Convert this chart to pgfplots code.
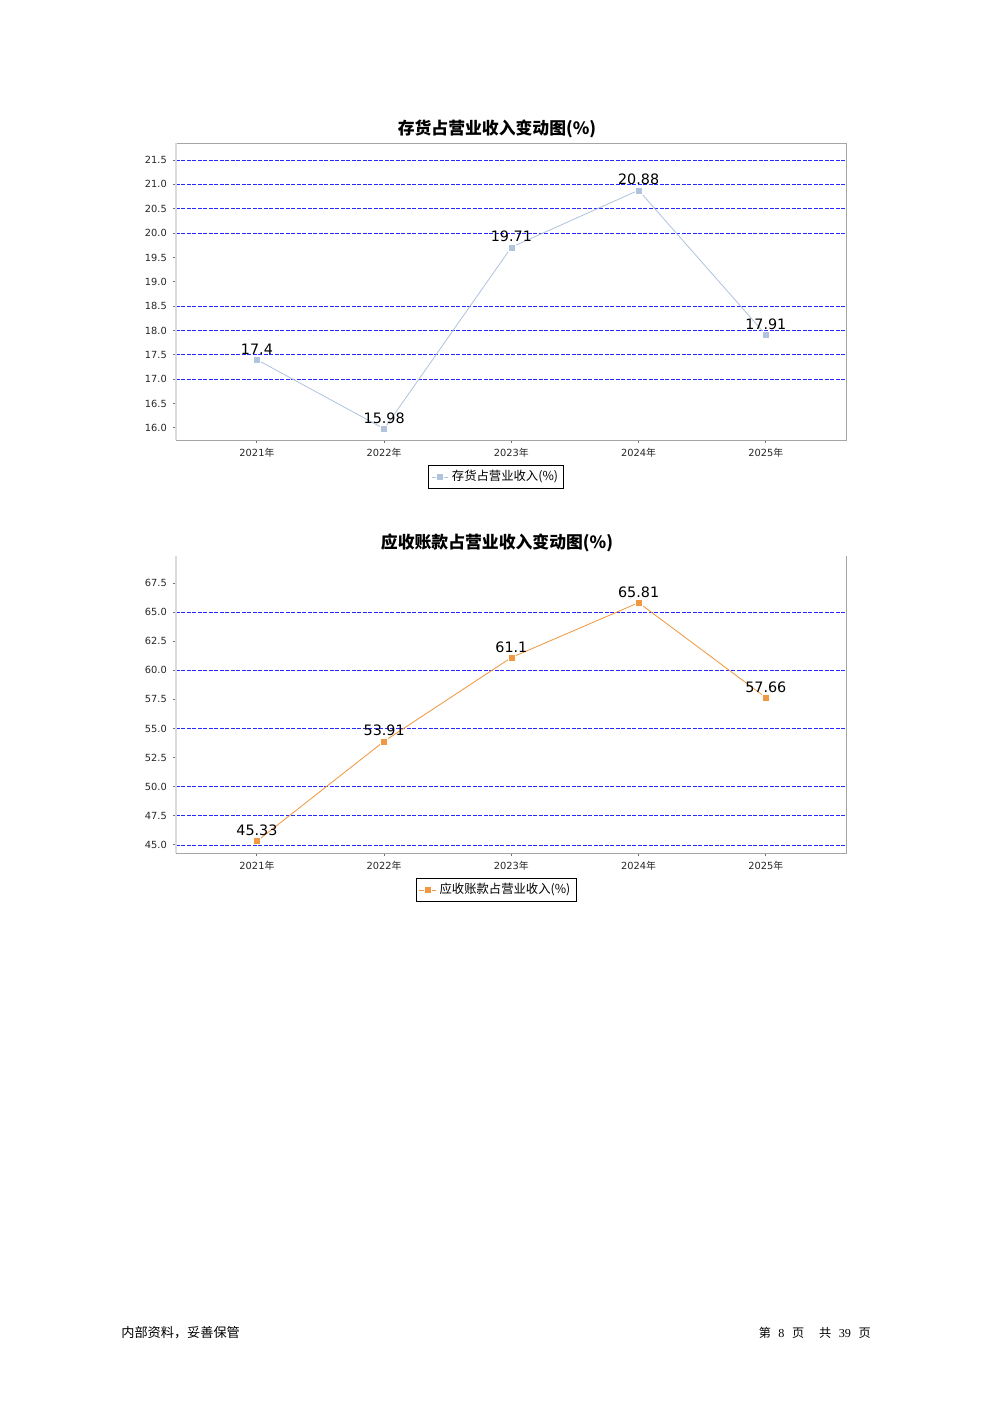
\documentclass[border=0pt]{standalone}
\usepackage{pgfplots}
\pgfplotsset{compat=1.18}
\usepackage{fontspec}
\setmainfont{DejaVu Sans}
\newfontfamily\cjk{Noto Sans CJK SC}
\newfontfamily\sernum{Liberation Serif}
\definecolor{cA}{RGB}{176,196,222}
\definecolor{cB}{RGB}{240,152,66}
\definecolor{axgray}{RGB}{165,165,165}
\definecolor{gridblue}{RGB}{40,40,255}
\pgfplotsset{
  base/.style={
    scale only axis, width=402pt, height=178.2pt,
    xmin=-0.636, xmax=4.63,
    xtick={0,1,2,3,4},
    xticklabels={2021{\cjk 年},2022{\cjk 年},2023{\cjk 年},2024{\cjk 年},2025{\cjk 年}},
    tick align=outside, xtick pos=bottom, ytick pos=left,
    major tick length=2pt,
    tick style={draw=black!55, line width=0.6pt},
    axis line style={draw=none},
    ticklabel style={font=\fontsize{5.9}{7}\selectfont, text=black!85},
    xticklabel style={yshift=0.8pt},
    yticklabel style={/pgf/number format/.cd, fixed, fixed zerofill, precision=1, assume math mode=true},
    extra y tick labels={},
    extra y tick style={grid=major, major tick length=0pt,
      major grid style={draw=gridblue, dash pattern=on 2.4pt off 0.9pt, line width=0.55pt}},
    legend style={at={(0.478,-0.084)}, anchor=north, draw=black, line width=0.6pt,
      font=\cjk\fontsize{7.4}{8.5}\selectfont, inner xsep=1.5pt, inner ysep=1pt},
    legend image code/.code={\draw[mark repeat=2,mark phase=2,#1] plot coordinates {(0pt,0pt) (5pt,0pt) (10pt,0pt)};},
    clip=false,
  },
  lbl/.style={nodes near coords, point meta=explicit symbolic,
    nodes near coords style={anchor=south, inner sep=0pt, yshift=3pt, font=\fontsize{8.6}{9}\selectfont, text=black}},
}
\begin{document}
\begin{tikzpicture}[x=1pt,y=1pt]
\path[use as bounding box] (0,0) rectangle (595.2,-841.8);

% Chart 1
\begin{axis}[base, at={(105.6pt,-264pt)}, anchor=south west,
  ymin=15.75, ymax=21.85,
  ytick={16,16.5,...,21.6},
  extra y ticks={17,17.5,18,18.5,20,20.5,21,21.5},
]
\draw[axgray, line width=0.6pt] (rel axis cs:0,1) -- (rel axis cs:1,1) -- (rel axis cs:1,0) -- (rel axis cs:0,0);
\draw[axgray!40, line width=1.1pt] (rel axis cs:0,0) -- (rel axis cs:0,1);
\addplot[color=cA, line width=0.5pt, mark=square*, mark size=2.1pt,
  mark options={fill=cA, draw=white, line width=0.2pt}, lbl]
  coordinates {(0,17.4)[17.4] (1,15.98)[15.98] (2,19.71)[19.71] (3,20.88)[20.88] (4,17.91)[17.91]};
\addlegendentry{存货占营业收入(\%)}
\end{axis}

% Chart 2
\begin{axis}[base, at={(105.6pt,-511.8pt)}, anchor=south west,
  ymin=44.31, ymax=69.82,
  ytick={45,47.5,...,68},
  extra y ticks={45,47.5,50,55,60,65},
]
\draw[axgray, line width=0.6pt] (rel axis cs:0,0) -- (rel axis cs:1,0) -- (rel axis cs:1,1);
\draw[axgray!40, line width=1.1pt] (rel axis cs:0,0) -- (rel axis cs:0,1);
\addplot[color=cB, line width=0.5pt, mark=square*, mark size=2.1pt,
  mark options={fill=cB, draw=white, line width=0.2pt}, lbl]
  coordinates {(0,45.33)[45.33] (1,53.91)[53.91] (2,61.1)[61.1] (3,65.81)[65.81] (4,57.66)[57.66]};
\addlegendentry{应收账款占营业收入(\%)}
\end{axis}

% Titles
\node[font=\cjk\bfseries\fontsize{10.1}{12}\selectfont] at (298.2,-77.6) {存货占营业收入变动图(\%)};
\node[font=\cjk\bfseries\fontsize{10.1}{12}\selectfont] at (298.2,-325.6) {应收账款占营业收入变动图(\%)};

% Footer
\node[anchor=west, inner sep=0pt, font=\cjk\fontsize{7.9}{9}\selectfont] at (72.6,-799.8) {内部资料，妥善保管};
\node[anchor=east, inner sep=0pt, font=\cjk\fontsize{7.3}{9}\selectfont] at (522.6,-799.8) {第\hspace{4.5pt}{\sernum 8}\hspace{4.5pt}页\hspace{9pt}共\hspace{4.5pt}{\sernum 39}\hspace{4.5pt}页};
\end{tikzpicture}
\end{document}
